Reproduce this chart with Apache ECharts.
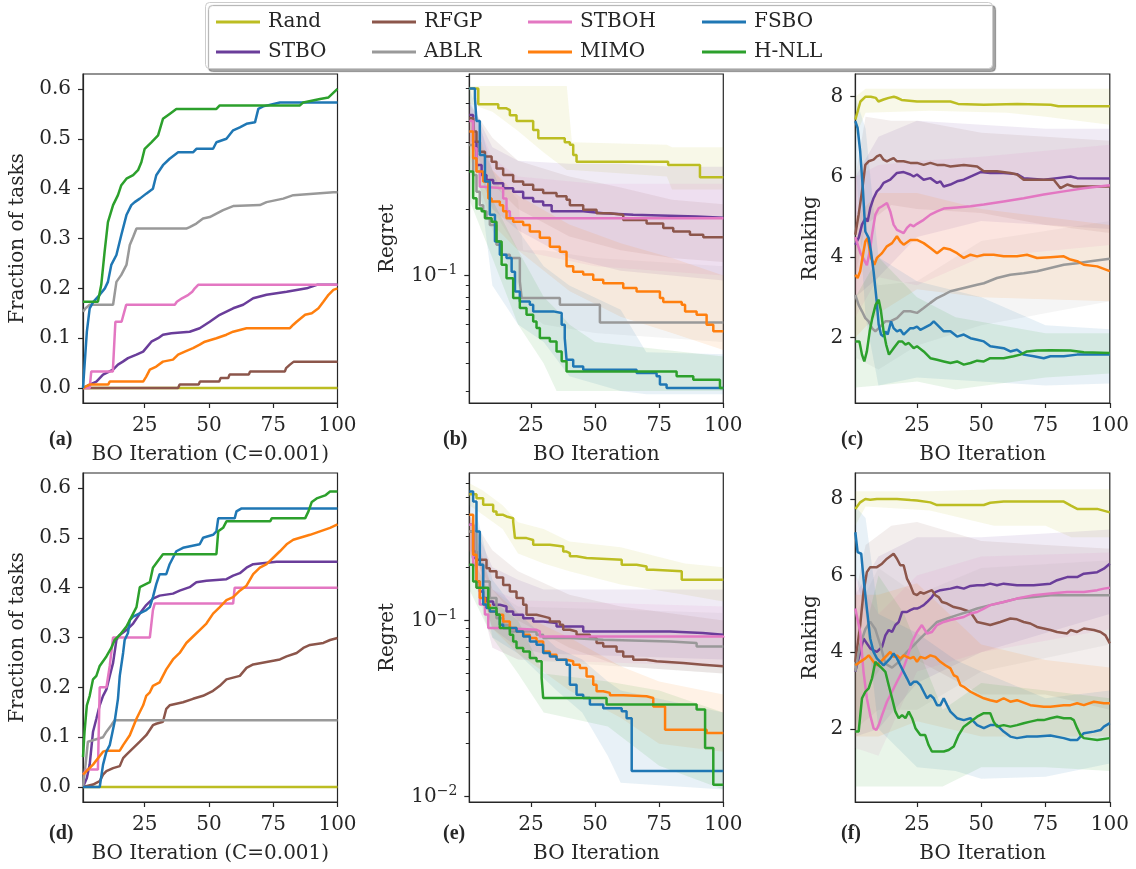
<!DOCTYPE html>
<html>
<head>
<meta charset="utf-8">
<script src="https://cdn.jsdelivr.net/npm/echarts@6.0.0/dist/echarts.min.js"></script>
<style>
  html, body { margin: 0; padding: 0; background: #ffffff; }
  #chart { width: 1136px; height: 869px; }
</style>
</head>
<body>
<div id="chart"></div>
<script>
// ---------- methods (plot order) ----------
const methods = ['Rand', 'STBO', 'RFGP', 'ABLR', 'STBOH', 'MIMO', 'FSBO', 'H-NLL'];

// ---------- shared tick values ----------
const xTicks = [25, 50, 75, 100];
const fracTicks = [0, 0.1, 0.2, 0.3, 0.4, 0.5, 0.6];
const rankTicks = [2, 4, 6, 8];
const regretMajorB = [0.1];
const regretMinorB = [0.03, 0.04, 0.05, 0.06, 0.07, 0.08, 0.09, 0.2, 0.3, 0.4, 0.5, 0.6, 0.7, 0.8];
const regretMajorE = [0.01, 0.1];
const regretMinorE = [0.02, 0.03, 0.04, 0.05, 0.06, 0.07, 0.08, 0.09, 0.2, 0.3, 0.4, 0.5, 0.6];

// ---------- (a) fraction of tasks solved, C=0.001 ----------
const aRand = [[1,0],[100,0]];
const aSTBO = [[1,0],[3.6,0.007],[6.2,0.013],[8.8,0.027],[12.7,0.037],[14.6,0.047],[16.5,0.053],[18.5,0.06],[21.8,0.067],[24.4,0.073],[27.6,0.093],[30.2,0.1],[32.1,0.107],[35.4,0.11],[42.5,0.113],[46.4,0.12],[50.3,0.133],[54.2,0.147],[59.4,0.16],[63.3,0.167],[67.2,0.18],[72.4,0.187],[80.2,0.193],[88,0.2],[92,0.207],[100,0.207]];
const aRFGP = [[1,0],[38,0],[38.6,0.007],[46,0.007],[46.5,0.013],[54,0.013],[54.5,0.02],[57.5,0.02],[58,0.027],[65.5,0.027],[66,0.033],[79.5,0.033],[80,0.04],[81.5,0.047],[83,0.053],[100,0.053]];
const aABLR = [[1,0.153],[2,0.16],[3.6,0.167],[12.7,0.167],[14,0.213],[15.9,0.227],[17.9,0.247],[19.2,0.287],[20.5,0.303],[21.8,0.32],[41.2,0.32],[42.5,0.323],[45.1,0.33],[47.7,0.34],[50.3,0.343],[52.9,0.35],[55.5,0.357],[59.4,0.365],[69.8,0.367],[72.4,0.373],[78.9,0.38],[82.8,0.387],[98.4,0.393],[100,0.393]];
const aSTBOH = [[1,0],[3.6,0],[4.2,0.033],[12.6,0.033],[13.6,0.133],[16,0.133],[17.8,0.167],[36.7,0.167],[37.5,0.173],[39.5,0.18],[42,0.187],[43.5,0.193],[44.5,0.2],[45.8,0.207],[100,0.207]];
const aMIMO = [[1,0],[2,0.003],[3.6,0.007],[10.8,0.007],[11.4,0.013],[24.4,0.013],[25.6,0.023],[27,0.037],[29.5,0.043],[32.1,0.053],[36,0.057],[38,0.067],[40.6,0.073],[43.8,0.08],[46.4,0.087],[48.4,0.093],[52.9,0.1],[56.8,0.107],[59.4,0.113],[64.6,0.12],[81.5,0.12],[82.8,0.127],[84.1,0.133],[87.4,0.147],[90,0.15],[92.6,0.16],[94.5,0.173],[96.5,0.187],[98.4,0.197],[100,0.2]];
const aFSBO = [[1,0],[2.5,0.113],[3.6,0.16],[5,0.173],[7.5,0.187],[9.5,0.2],[10.7,0.213],[12,0.247],[14,0.267],[15.9,0.307],[17.9,0.347],[19.8,0.367],[21.1,0.373],[23.1,0.38],[25.6,0.39],[28.2,0.4],[29.5,0.427],[32.1,0.447],[34.7,0.46],[38,0.473],[43.8,0.473],[45.1,0.48],[51.6,0.48],[52.9,0.493],[56.8,0.5],[59.4,0.517],[62,0.523],[64.6,0.53],[67.9,0.533],[69.2,0.56],[71.1,0.565],[77.6,0.573],[100,0.573]];
const aHNLL = [[1,0.173],[6.8,0.173],[8.1,0.207],[9.4,0.273],[10.7,0.333],[12.7,0.367],[14.6,0.387],[15.9,0.407],[17.9,0.42],[20.5,0.427],[22.4,0.437],[23.7,0.453],[25,0.48],[27.6,0.493],[30.2,0.507],[32.1,0.54],[34.7,0.55],[37.3,0.56],[52.9,0.56],[54.2,0.567],[85.4,0.567],[86.7,0.573],[93.2,0.58],[96.5,0.583],[100,0.6]];

// ---------- (b) regret, mean with band [x, low, high] ----------
const bRand = [[1,0.70],[4.5,0.594],[12.3,0.57],[15.5,0.56],[16.8,0.53],[19.4,0.50],[25.9,0.455],[27.9,0.417],[38.2,0.40],[40.2,0.39],[41.5,0.351],[42.8,0.327],[78.5,0.316],[90.9,0.278],[100,0.278]];
const bSTBO = [[1,0.532],[2.5,0.403],[3.8,0.316],[5.8,0.285],[7.7,0.27],[10.3,0.261],[14.2,0.248],[18.1,0.239],[22,0.224],[25.9,0.216],[29.8,0.208],[33.1,0.195],[45.4,0.191],[53.2,0.188],[64.9,0.185],[89.6,0.1825],[100,0.1825]];
const bRFGP = [[1,0.514],[2.5,0.448],[3.8,0.403],[5.1,0.363],[7.1,0.345],[9.7,0.327],[11.6,0.305],[14.2,0.285],[18.1,0.266],[22,0.257],[25.9,0.244],[29.8,0.236],[35,0.228],[38.9,0.22],[40.2,0.208],[45.4,0.198],[50.6,0.191],[55.8,0.188],[61,0.178],[70.1,0.172],[76.6,0.164],[80.5,0.158],[87,0.153],[92.2,0.149],[100,0.149]];
const bABLR = [[1,0.389],[2.5,0.285],[3.8,0.239],[5.1,0.208],[6.4,0.195],[7.7,0.1815],[9,0.169],[11.6,0.1376],[13.6,0.124],[16.8,0.12],[20.7,0.094],[21.4,0.079],[36.3,0.0737],[51.9,0.0613],[100,0.0613]];
const bSTBOH = [[1,0.50],[2.5,0.376],[3.8,0.295],[5.1,0.252],[6.4,0.248],[14.2,0.223],[15.5,0.195],[16.8,0.1815],[100,0.1815]];
const bMIMO = [[1,0.448],[2.5,0.339],[3.8,0.295],[6.4,0.266],[8.4,0.223],[9.7,0.216],[12.9,0.208],[14.2,0.195],[15.5,0.1815],[18.1,0.175],[22,0.169],[24.6,0.158],[28.5,0.148],[32.4,0.135],[36.3,0.128],[38.9,0.11],[41.5,0.104],[45.4,0.101],[49.3,0.0956],[53.2,0.0923],[61,0.0877],[66.2,0.0847],[75.3,0.079],[76.6,0.0758],[83.8,0.0737],[85.1,0.0688],[89.6,0.0664],[93.5,0.0598],[96.1,0.0559],[100,0.0559]];
const bFSBO = [[1,0.70],[3.2,0.632],[3.8,0.50],[5.1,0.351],[7.1,0.266],[9,0.188],[11,0.1424],[12.9,0.124],[15.5,0.12],[17.5,0.104],[18.8,0.0847],[20.7,0.0763],[24.6,0.0737],[25.9,0.0688],[33.7,0.0676],[37,0.0598],[38.2,0.0521],[38.9,0.0416],[41.5,0.0388],[45.4,0.0375],[66.2,0.0362],[74,0.035],[75.3,0.0321],[77.9,0.031],[100,0.031]];
const bHNLL = [[1,0.295],[2.5,0.2235],[3.8,0.201],[5.8,0.195],[7.1,0.1815],[9.7,0.175],[11.6,0.1424],[13.6,0.1117],[15.5,0.0972],[18.1,0.079],[20.7,0.0712],[23.3,0.0664],[25.9,0.062],[27.2,0.0578],[28.5,0.0521],[32.4,0.0503],[35,0.0453],[37,0.0409],[38.9,0.0368],[81.8,0.035],[88.3,0.0338],[98.7,0.031],[100,0.031]];
const bRandBand = [[1,0.60,0.72],[10,0.55,0.72],[20,0.45,0.72],[30,0.36,0.72],[39,0.30,0.72],[41,0.30,0.40],[78,0.28,0.39],[80,0.245,0.38],[100,0.245,0.38]];
const bSTBOBand = [[1,0.40,0.62],[10,0.20,0.38],[20,0.16,0.33],[40,0.12,0.32],[60,0.105,0.32],[80,0.10,0.31],[100,0.095,0.31]];
const bRFGPBand = [[1,0.40,0.60],[10,0.26,0.42],[20,0.20,0.33],[40,0.15,0.28],[60,0.13,0.25],[80,0.12,0.22],[100,0.115,0.21]];
const bABLRBand = [[1,0.30,0.50],[10,0.16,0.30],[20,0.09,0.22],[22,0.07,0.13],[30,0.06,0.13],[50,0.055,0.12],[100,0.05,0.11]];
const bSTBOHBand = [[1,0.40,0.60],[10,0.20,0.34],[20,0.13,0.28],[50,0.11,0.26],[100,0.10,0.26]];
const bMIMOBand = [[1,0.35,0.55],[10,0.17,0.30],[20,0.13,0.23],[40,0.085,0.17],[60,0.065,0.14],[80,0.055,0.12],[100,0.046,0.10]];
const bFSBOBand = [[1,0.60,0.72],[10,0.09,0.30],[20,0.06,0.16],[30,0.05,0.11],[40,0.035,0.09],[60,0.03,0.07],[70,0.029,0.045],[100,0.029,0.044]];
const bHNLLBand = [[1,0.22,0.40],[10,0.12,0.22],[20,0.06,0.13],[30,0.04,0.08],[35,0.03,0.07],[40,0.03,0.06],[50,0.03,0.05],[100,0.03,0.043]];

// ---------- (c) ranking ----------
const cRand = [[1,7.43],[3,7.88],[5,8.0],[7,8.0],[9,7.97],[10,7.88],[12,7.93],[14,7.97],[16,8.0],[17,7.98],[19,7.92],[25,7.88],[38,7.88],[41,7.82],[51,7.80],[64,7.82],[77,7.80],[80,7.76],[100,7.76]];
const cSTBO = [[1,4.31],[2.3,4.48],[3.6,4.81],[4.9,4.97],[5.8,4.89],[6.8,5.22],[8.1,5.47],[9.4,5.64],[10.7,5.72],[12,5.85],[14.6,5.93],[17.2,6.10],[19.8,6.12],[22.4,6.06],[23.7,6.01],[25,6.06],[27.6,5.93],[30.2,5.97],[32.8,5.85],[34.1,5.89],[35.4,5.76],[38,5.81],[40.6,5.89],[43.2,5.93],[45.8,6.01],[49.7,6.12],[53.5,6.10],[58.7,6.10],[63.9,6.07],[66.5,5.97],[74.3,5.93],[79.5,5.97],[84.7,6.01],[87.3,5.97],[100,5.96]];
const cRFGP = [[1,4.56],[2.3,5.06],[3.6,5.64],[4.9,6.30],[6.2,6.39],[8.1,6.43],[9.4,6.51],[10.7,6.55],[12,6.43],[13.3,6.39],[14.6,6.43],[15.9,6.47],[17.2,6.39],[19.8,6.39],[22.4,6.35],[25,6.35],[27.6,6.30],[30.2,6.35],[32.8,6.30],[35.4,6.30],[38,6.26],[43.2,6.30],[48.4,6.26],[51,6.14],[56.1,6.14],[61.3,6.10],[63.9,6.06],[66.5,5.93],[74.3,5.93],[78.2,5.93],[80.8,5.72],[83.4,5.81],[86,5.76],[89.9,5.76],[100,5.76]];
const cABLR = [[1,3.06],[2.3,2.81],[3.6,2.65],[4.9,2.48],[6.2,2.40],[7.5,2.23],[8.8,2.15],[10.1,2.23],[11.4,2.32],[12.7,2.40],[14.6,2.40],[17.2,2.48],[19.8,2.65],[22.4,2.65],[25,2.61],[27.6,2.73],[30.2,2.86],[32.8,2.98],[35.4,3.06],[38,3.15],[43.2,3.23],[48.4,3.31],[51,3.35],[56.1,3.48],[61.3,3.56],[66.5,3.60],[71.7,3.65],[76.9,3.73],[82.1,3.81],[87.3,3.85],[92.5,3.90],[100,3.96]];
const cSTBOH = [[1,4.5],[3,4.1],[5.5,3.8],[6.8,4.2],[7.5,4.56],[8.8,5.06],[10.1,5.22],[11.4,5.27],[13.3,5.35],[14.6,5.14],[15.9,4.81],[17.2,4.68],[19.8,4.60],[21.1,4.73],[22.4,4.81],[23.7,4.77],[25,4.83],[27.6,4.93],[30.2,5.06],[32.8,5.14],[35.4,5.21],[40.6,5.24],[45.8,5.27],[51,5.31],[58.7,5.39],[66.5,5.47],[74.3,5.56],[82.1,5.64],[89.9,5.72],[100,5.79]];
const cMIMO = [[1,3.56],[1.9,3.48],[2.9,3.65],[4.2,4.14],[4.9,4.39],[5.8,4.48],[7.1,3.98],[8.4,3.81],[9.4,3.98],[11.4,4.10],[13.3,4.27],[15.3,4.35],[17.2,4.52],[18.5,4.39],[19.8,4.31],[22.4,4.43],[25,4.43],[27.6,4.35],[30.2,4.23],[32.8,4.10],[35.4,4.23],[38,4.19],[40.6,4.10],[43.2,3.98],[45.8,4.06],[48.4,4.02],[51,4.06],[54.8,4.06],[58.7,4.02],[63.9,4.02],[67.8,4.06],[71.7,3.98],[76.9,4.0],[82.1,4.02],[84.7,3.94],[87.3,3.90],[89.9,3.81],[95.1,3.77],[100,3.65]];
const cFSBO = [[1,7.39],[1.9,7.22],[2.9,6.64],[4,5.64],[4.9,4.64],[6.2,4.48],[7.1,4.14],[8.1,3.65],[9.2,2.98],[10.1,2.32],[11,2.07],[12,2.02],[12.7,2.15],[13.6,2.07],[14.9,2.40],[15.9,2.23],[17.2,2.15],[18.5,2.19],[19.8,2.07],[21.1,2.15],[22.4,2.23],[23.7,2.23],[25,2.27],[26.3,2.19],[27.6,2.23],[30.2,2.32],[31.5,2.40],[32.8,2.32],[35.4,2.15],[38,2.15],[40.6,2.02],[43.2,2.07],[45.8,1.98],[48.4,1.94],[51,1.90],[53.5,1.78],[58.7,1.73],[61.3,1.65],[63.9,1.69],[66.5,1.57],[70.4,1.53],[74.3,1.48],[76.9,1.53],[82.1,1.53],[87.3,1.57],[100,1.57]];
const cHNLL = [[1,1.90],[2.6,1.90],[3.6,1.57],[4.5,1.40],[5.5,1.65],[6.6,2.15],[7.6,2.48],[8.9,2.81],[10.1,2.94],[11,2.65],[12,2.15],[13,1.82],[14.1,1.57],[15.9,1.73],[17.9,1.90],[19.2,1.90],[20.5,1.82],[21.8,1.86],[23.7,1.73],[25,1.78],[27.6,1.65],[30.2,1.48],[32.8,1.44],[35.4,1.40],[38,1.36],[40.6,1.40],[43.2,1.32],[45.8,1.36],[48.4,1.42],[51,1.40],[53.5,1.48],[58.7,1.48],[62.6,1.53],[65.2,1.57],[67.8,1.65],[71.7,1.67],[76.9,1.68],[84.7,1.67],[89.9,1.63],[100,1.61]];
const cRandBand = [[1,7.0,8.0],[5,7.6,8.2],[30,7.65,8.2],[60,7.6,8.2],[75,7.5,8.2],[100,7.3,8.2]];
const cSTBOBand = [[1,3.0,6.0],[10,3.5,7.0],[25,4.5,7.4],[50,4.9,7.3],[75,4.8,7.2],[100,4.7,7.2]];
const cRFGPBand = [[1,3.5,6.0],[5,4.8,7.5],[15,5.3,7.4],[25,5.2,7.4],[50,5.1,7.1],[75,4.8,7.0],[100,4.6,6.9]];
const cABLRBand = [[1,1.5,4.5],[10,1.2,3.3],[25,1.8,3.4],[50,2.3,4.4],[100,2.9,4.9]];
const cSTBOHBand = [[1,2.5,6.0],[10,3.5,6.3],[25,3.3,6.4],[50,4.0,6.5],[100,4.3,6.8]];
const cMIMOBand = [[1,2.0,5.0],[10,2.6,5.6],[25,3.2,5.6],[50,3.0,5.2],[100,2.9,4.8]];
const cFSBOBand = [[1,6.5,8.0],[5,2.5,7.2],[10,0.8,4.0],[25,1.0,3.4],[50,0.9,3.0],[75,0.8,2.3],[100,0.85,2.2]];
const cHNLLBand = [[1,0.75,3.0],[10,0.8,4.0],[25,0.9,3.0],[40,0.7,2.5],[75,1.0,2.1],[100,1.1,2.1]];

// ---------- (d) fraction of tasks solved, C=0.001 ----------
const dRand = [[1,0],[100,0]];
const dSTBO = [[1,0],[2.5,0.018],[3.6,0.045],[4.9,0.111],[6.2,0.137],[7.5,0.164],[8.8,0.183],[10.1,0.196],[11.4,0.223],[12.7,0.249],[14,0.295],[15.3,0.305],[17.9,0.315],[20.5,0.328],[23.1,0.348],[25.6,0.365],[28.2,0.378],[30.8,0.384],[33.4,0.386],[36,0.388],[38.6,0.394],[42.5,0.401],[45.1,0.411],[49,0.414],[56.8,0.417],[59.4,0.424],[62,0.429],[64.6,0.44],[67.2,0.447],[76.3,0.452],[100,0.452]];
const dRFGP = [[1,0],[4.9,0.005],[7.5,0.012],[8.8,0.025],[10.1,0.032],[12.7,0.038],[15.3,0.042],[16.6,0.058],[17.9,0.065],[20.5,0.078],[23.1,0.091],[25.6,0.104],[28.2,0.124],[29.5,0.127],[32.1,0.131],[33.4,0.157],[34.7,0.164],[37.3,0.167],[39.9,0.17],[43.8,0.177],[47.7,0.183],[51.6,0.193],[54.2,0.203],[56.8,0.216],[62,0.223],[64.6,0.239],[67.2,0.246],[77.6,0.256],[80.2,0.262],[84.1,0.269],[86.7,0.279],[89.3,0.285],[94.5,0.289],[97.1,0.295],[100,0.299]];
const dABLR = [[1,0],[2,0.045],[2.9,0.091],[8.8,0.1],[10.1,0.111],[12,0.124],[13.3,0.134],[100,0.134]];
const dSTBOH = [[1,0.025],[2.5,0.035],[6.8,0.035],[7.5,0.2],[10.1,0.2],[11.4,0.243],[12.7,0.3],[27,0.3],[28.2,0.355],[28.9,0.368],[59.4,0.368],[60,0.4],[100,0.4]];
const dMIMO = [[1,0.025],[4.9,0.045],[8.8,0.071],[10.1,0.073],[15.3,0.073],[16.6,0.084],[19.2,0.104],[21.8,0.137],[24.4,0.164],[25.6,0.183],[27,0.19],[28.2,0.203],[30.8,0.21],[33.4,0.236],[36,0.256],[38.6,0.269],[41.2,0.289],[43.8,0.302],[46.4,0.315],[49,0.328],[51.6,0.348],[54.2,0.361],[56.8,0.375],[59.4,0.381],[62,0.394],[64.6,0.404],[67.2,0.427],[69.8,0.44],[72.4,0.447],[75,0.46],[77.6,0.473],[80.2,0.487],[82.8,0.496],[85.4,0.5],[89.3,0.506],[93.2,0.513],[97.1,0.52],[100,0.527]];
const dFSBO = [[1,0],[7.5,0],[8.8,0.045],[10.1,0.071],[11.4,0.084],[13.3,0.131],[14.6,0.177],[15.3,0.223],[16.6,0.269],[17.2,0.295],[18.5,0.309],[19.2,0.335],[20.5,0.342],[25.6,0.355],[27,0.361],[28.2,0.381],[29.5,0.407],[30.8,0.427],[33.4,0.427],[34.7,0.447],[36,0.46],[37.3,0.473],[39.9,0.48],[46.4,0.487],[47.7,0.5],[51.6,0.506],[52.9,0.513],[53.6,0.539],[60,0.539],[60.7,0.553],[62.7,0.559],[100,0.559]];
const dHNLL = [[1,0.06],[1.6,0.111],[2.5,0.164],[3.6,0.183],[4.9,0.216],[6.2,0.223],[7.5,0.243],[10.1,0.262],[12,0.279],[13.3,0.295],[15.3,0.305],[17.9,0.322],[20.5,0.348],[21.8,0.361],[23.1,0.401],[27,0.411],[28.2,0.44],[30.2,0.454],[32.1,0.467],[52.9,0.467],[53.6,0.513],[55.5,0.52],[56.8,0.533],[73.8,0.533],[74.4,0.539],[87.4,0.539],[88.7,0.553],[90,0.572],[91.9,0.579],[95.2,0.585],[97.1,0.593],[100,0.593]];

// ---------- (e) regret ----------
const eRand = [[1,0.52],[3.8,0.494],[6.4,0.453],[10.3,0.415],[11.6,0.397],[14.2,0.389],[15.5,0.38],[18.1,0.364],[18.8,0.293],[23.3,0.286],[25.9,0.269],[32.4,0.263],[37.6,0.246],[38.9,0.241],[40.2,0.231],[42.8,0.226],[46.7,0.221],[60.4,0.207],[66.2,0.202],[70.1,0.194],[72.7,0.19],[83.8,0.17],[100,0.17]];
const eSTBO = [[1,0.349],[2.5,0.226],[3.8,0.166],[5.1,0.146],[6.4,0.134],[7.7,0.128],[10.3,0.1227],[12.9,0.12],[15.5,0.1124],[18.1,0.1077],[22,0.103],[25.9,0.0987],[29.8,0.0966],[35,0.0925],[45.4,0.0866],[79.2,0.0848],[92,0.0829],[100,0.0829]];
const eRFGP = [[1,0.32],[2.5,0.246],[3.8,0.221],[7.7,0.198],[9,0.19],[11.6,0.175],[14.2,0.159],[16.8,0.146],[19.4,0.134],[22,0.1227],[23.3,0.1077],[27.2,0.1054],[29.8,0.103],[32.4,0.0987],[36.3,0.0945],[37.6,0.0885],[40.2,0.0866],[42.8,0.0829],[48,0.0794],[50.6,0.0744],[53.2,0.0712],[58.4,0.0667],[61,0.0625],[64.9,0.0598],[70.1,0.0586],[74,0.0573],[84.4,0.0561],[92,0.0549],[100,0.0549]];
const eABLR = [[1,0.32],[3.8,0.207],[6.4,0.166],[9,0.134],[11.6,0.103],[14.2,0.0945],[16.8,0.0866],[27.2,0.0829],[29.8,0.0794],[40.2,0.0777],[53.2,0.076],[79.2,0.0744],[89.6,0.0712],[100,0.0712]];
const eSTBOH = [[1,0.349],[2.5,0.207],[3.8,0.153],[5.1,0.123],[7.1,0.108],[8.4,0.0905],[14.2,0.0885],[27.2,0.0866],[28.5,0.0811],[100,0.0801]];
const eMIMO = [[1,0.397],[2.5,0.236],[3.8,0.166],[5.1,0.134],[7.1,0.1227],[9,0.1124],[11.6,0.1077],[14.2,0.0987],[16.8,0.0905],[19.4,0.0866],[22,0.0829],[24.6,0.0794],[27.2,0.076],[29.8,0.0667],[32.4,0.0639],[35,0.0598],[38.9,0.0586],[41.5,0.0561],[44.1,0.0537],[46.7,0.0481],[49.3,0.0432],[50.6,0.0396],[53.2,0.0388],[55.8,0.0376],[61,0.0371],[70.1,0.0363],[72.7,0.0325],[77.3,0.024],[93.5,0.023],[100,0.023]];
const eFSBO = [[1,0.539],[2.5,0.473],[3.8,0.32],[5.1,0.207],[6.4,0.123],[7.7,0.1175],[9,0.1124],[11.6,0.1077],[12.9,0.0945],[14.2,0.0905],[19.4,0.0866],[22,0.081],[24.6,0.076],[27.2,0.0727],[29.8,0.0653],[32.4,0.0625],[35,0.0598],[38.9,0.0561],[40.2,0.0432],[42.8,0.0379],[45.4,0.0363],[48,0.0333],[53.2,0.0318],[60.4,0.0305],[62.3,0.0279],[64.3,0.014],[100,0.014]];
const eHNLL = [[1,0.207],[2.5,0.166],[3.8,0.153],[8.4,0.1175],[11.6,0.1077],[12.9,0.0905],[16.8,0.0829],[18.1,0.076],[19.4,0.0697],[22,0.0667],[24.6,0.0612],[27.2,0.0586],[29.2,0.0471],[29.8,0.0363],[54.5,0.0333],[89.6,0.0312],[92.9,0.0189],[96.1,0.0117],[100,0.0117]];
const eRandBand = [[1,0.45,0.6],[6,0.40,0.55],[14,0.33,0.45],[20,0.24,0.36],[30,0.21,0.33],[40,0.19,0.28],[60,0.16,0.26],[85,0.14,0.21],[100,0.128,0.2]];
const eSTBOBand = [[1,0.25,0.4],[10,0.09,0.2],[20,0.07,0.17],[30,0.065,0.15],[100,0.06,0.15]];
const eRFGPBand = [[1,0.25,0.4],[10,0.15,0.25],[20,0.1,0.19],[40,0.07,0.14],[60,0.055,0.12],[100,0.05,0.1]];
const eABLRBand = [[1,0.22,0.35],[10,0.07,0.15],[20,0.06,0.12],[100,0.05,0.11]];
const eSTBOHBand = [[1,0.25,0.4],[10,0.07,0.15],[20,0.06,0.13],[100,0.055,0.12]];
const eMIMOBand = [[1,0.25,0.4],[10,0.09,0.15],[20,0.065,0.11],[40,0.04,0.08],[60,0.028,0.055],[75,0.02,0.045],[100,0.018,0.038]];
const eFSBOBand = [[1,0.45,0.6],[10,0.08,0.17],[20,0.065,0.11],[35,0.04,0.07],[45,0.03,0.06],[55,0.017,0.045],[60,0.012,0.04],[100,0.011,0.03]];
const eHNLLBand = [[1,0.15,0.25],[10,0.08,0.13],[20,0.05,0.1],[30,0.03,0.05],[55,0.025,0.045],[75,0.015,0.04],[100,0.011,0.03]];

// ---------- (f) ranking ----------
const fRand = [[1,7.74],[2.9,7.91],[4.9,8.0],[6.8,7.98],[9.4,8.0],[12,8.0],[17.2,8.0],[22.4,7.97],[25,7.96],[30.2,7.91],[32.8,7.84],[51,7.84],[53.5,7.90],[58.7,7.93],[82.1,7.93],[84.7,7.83],[87.3,7.74],[95.1,7.74],[100,7.65]];
const fSTBO = [[1,3.49],[4.2,4.36],[6.8,4.10],[8.1,4.05],[9.4,4.01],[11.4,4.14],[12.7,4.44],[14,4.58],[15.3,4.53],[16.6,4.71],[17.9,4.79],[19.2,5.05],[21.1,5.05],[22.4,5.10],[23.7,5.14],[25,5.14],[26.3,5.18],[27.6,5.23],[28.9,5.31],[30.8,5.44],[32.1,5.57],[34.1,5.62],[38,5.66],[40.6,5.70],[43.2,5.66],[45.8,5.73],[48.4,5.75],[51,5.75],[53.5,5.79],[56.1,5.75],[58.7,5.79],[63.9,5.75],[70.4,5.75],[76.9,5.79],[79.5,5.88],[83.4,5.96],[87.3,5.96],[89.9,6.05],[95.1,6.09],[97.7,6.18],[100,6.31]];
const fRFGP = [[1,3.75],[2.9,4.71],[4.2,5.57],[5.5,6.09],[6.8,6.22],[9.4,6.22],[11.4,6.31],[13.3,6.44],[15.9,6.57],[17.2,6.44],[18.5,6.27],[19.8,6.27],[21.1,5.92],[22.4,5.75],[23.7,5.53],[25,5.49],[26.3,5.57],[27.6,5.53],[28.9,5.57],[30.8,5.62],[32.1,5.49],[33.4,5.44],[34.7,5.31],[36.7,5.27],[39.3,5.18],[41.9,5.14],[45.8,5.05],[48.4,4.79],[51,4.75],[53.5,4.71],[57.4,4.79],[61.3,4.88],[63.9,4.86],[66.5,4.79],[69.1,4.75],[71.7,4.66],[74.3,4.62],[76.9,4.58],[79.5,4.53],[83.4,4.49],[84.7,4.58],[87.3,4.53],[89.9,4.62],[93.8,4.58],[96.4,4.53],[98.3,4.44],[100,4.23]];
const fABLR = [[1,3.5],[2.9,4.2],[4.9,4.6],[6.8,4.8],[8.8,4.6],[10.7,4.2],[12.7,3.7],[15.3,3.6],[17.9,3.75],[21.1,4.01],[23.7,4.18],[26.3,4.36],[28.9,4.53],[32.8,4.79],[36.7,4.88],[40.6,4.97],[44.5,5.05],[48.4,5.14],[53.5,5.23],[58.7,5.31],[63.9,5.40],[70.4,5.44],[76.9,5.49],[100,5.49]];
const fSTBOH = [[1,5.14],[1.6,5.14],[2.9,4.53],[4.2,3.49],[5.5,2.80],[6.8,2.36],[8.1,2.02],[9.2,1.97],[10.1,2.10],[11.4,2.36],[13.3,2.71],[15.3,2.97],[17.2,3.23],[19.2,3.49],[21.1,3.84],[23.1,4.27],[25,4.53],[26.9,4.71],[28.9,4.49],[30.8,4.53],[32.8,4.71],[35.4,4.79],[38,4.84],[40.6,4.88],[43.2,4.92],[45.8,5.01],[48.4,5.05],[51,5.14],[53.5,5.23],[58.7,5.31],[63.9,5.40],[70.4,5.49],[76.9,5.53],[83.4,5.57],[89.9,5.57],[95.1,5.62],[97.7,5.66],[100,5.68]];
const fMIMO = [[1,3.66],[2.9,3.75],[4.9,3.84],[6.2,3.92],[8.1,3.75],[9.4,3.66],[11.4,3.79],[13.3,3.92],[14.6,4.01],[15.9,3.88],[17.2,3.92],[18.5,3.84],[19.8,3.92],[22.4,3.84],[23.7,3.88],[25,3.75],[26.3,3.88],[28.2,3.84],[30.2,3.92],[32.1,3.88],[34.1,3.75],[36,3.66],[38,3.58],[39.3,3.40],[40.6,3.36],[41.9,3.14],[43.2,3.10],[45.8,2.97],[48.4,2.88],[51,2.80],[53.5,2.75],[56.1,2.71],[58.7,2.80],[61.3,2.71],[63.9,2.75],[69.1,2.62],[74.3,2.58],[76.9,2.58],[82.1,2.62],[84.7,2.62],[87.3,2.67],[89.9,2.62],[93.8,2.71],[97.7,2.67],[100,2.67]];
const fFSBO = [[1,7.13],[1.9,6.61],[3.3,6.57],[4.2,5.92],[5.5,5.14],[6.8,4.36],[8.1,4.01],[9.4,3.84],[10.7,3.75],[12,3.66],[13.3,3.75],[14.6,3.84],[15.9,3.97],[17.2,3.84],[18.5,3.66],[19.8,3.49],[21.1,3.32],[22.4,3.14],[23.7,3.23],[25,3.23],[26.3,3.14],[27.6,2.97],[28.9,2.80],[30.2,2.88],[31.5,2.80],[32.8,2.62],[34.1,2.62],[35.4,2.80],[36.7,2.62],[38,2.45],[40.6,2.28],[43.2,2.23],[45.8,2.28],[48.4,2.10],[51,2.02],[53.5,2.10],[56.1,2.10],[58.7,1.93],[61.3,1.80],[63.9,1.76],[67.8,1.80],[71.7,1.80],[76.9,1.83],[82.1,1.76],[84.7,1.71],[87.3,1.71],[89.9,1.89],[93.8,1.93],[96.4,1.97],[97.7,2.06],[100,2.15]];
const fHNLL = [[1,1.93],[2.3,1.93],[3.6,2.80],[4.9,2.97],[6.2,3.06],[7.5,3.32],[8.8,3.75],[10.1,3.66],[11.4,3.58],[12.7,3.49],[14,3.14],[15.3,2.80],[16.6,2.45],[17.9,2.28],[19.2,2.36],[20.5,2.28],[21.8,2.45],[23.1,2.28],[24.4,2.02],[26.3,1.84],[28.2,1.84],[29.5,1.58],[30.8,1.41],[32.8,1.41],[35.4,1.41],[37.3,1.45],[39.3,1.54],[41.2,1.84],[43.2,2.06],[45.8,2.19],[48.4,2.32],[51,2.41],[53.5,2.41],[54.8,2.19],[56.1,2.06],[58.7,2.10],[61.3,2.06],[63.9,2.10],[66.5,2.15],[69.1,2.19],[71.7,2.23],[74.3,2.23],[76.9,2.28],[79.5,2.32],[82.1,2.28],[84.7,2.28],[86,2.23],[87.3,2.02],[88.6,1.84],[89.9,1.76],[95.1,1.71],[100,1.76]];
const fRandBand = [[1,7.3,8.2],[5,7.8,8.2],[30,7.7,8.2],[55,7.3,8.25],[75,7.3,8.25],[85,7.0,8.25],[100,7.0,8.25]];
const fSTBOBand = [[1,1.8,5.5],[10,2.0,6.5],[25,3.2,7.0],[50,4.0,7.0],[75,4.5,7.1],[100,5.0,7.2]];
const fRFGPBand = [[1,2.0,5.5],[5,3.0,6.8],[15,4.0,7.3],[25,3.8,7.4],[50,2.9,6.9],[75,2.9,6.8],[100,2.5,6.7]];
const fABLRBand = [[1,2.0,5.0],[10,2.5,6.2],[25,2.5,5.5],[50,3.5,6.2],[100,4.2,6.4]];
const fSTBOHBand = [[1,1.5,6.0],[10,1.3,5.0],[25,3.5,6.0],[50,4.0,6.5],[100,4.6,6.6]];
const fMIMOBand = [[1,1.8,5.5],[10,1.8,5.5],[25,2.2,5.8],[50,1.8,4.2],[75,1.8,3.8],[100,1.8,3.6]];
const fFSBOBand = [[1,6.0,7.8],[5,5.0,7.5],[10,2.0,5.0],[25,1.0,4.5],[40,0.9,3.8],[50,0.7,3.5],[75,0.75,2.8],[100,1.1,3.0]];
const fHNLLBand = [[1,0.5,3.5],[10,0.5,6.0],[20,0.5,5.0],[35,0.5,2.5],[50,1.0,3.2],[75,1.0,3.0],[100,0.9,2.8]];

// ---------- styling ----------
const colors = ['#bcbd22', '#6a3d9a', '#8c564b', '#999999', '#e377c2', '#ff7f0e', '#1f77b4', '#2ca02c'];
const FONT = '"DejaVu Serif", serif';
const INK = '#262626';

const panels = [
  { tag: '(a)', lines: [aRand,aSTBO,aRFGP,aABLR,aSTBOH,aMIMO,aFSBO,aHNLL], bands: null, step: false,
    kind: 'frac', xName: 'BO Iteration (C=0.001)', yName: 'Fraction of tasks' },
  { tag: '(b)', lines: [bRand,bSTBO,bRFGP,bABLR,bSTBOH,bMIMO,bFSBO,bHNLL],
    bands: [bRandBand,bSTBOBand,bRFGPBand,bABLRBand,bSTBOHBand,bMIMOBand,bFSBOBand,bHNLLBand], step: true,
    kind: 'log', yMin: 0.0265, yMax: 0.815, majors: regretMajorB, minors: regretMinorB, xName: 'BO Iteration', yName: 'Regret' },
  { tag: '(c)', lines: [cRand,cSTBO,cRFGP,cABLR,cSTBOH,cMIMO,cFSBO,cHNLL],
    bands: [cRandBand,cSTBOBand,cRFGPBand,cABLRBand,cSTBOHBand,cMIMOBand,cFSBOBand,cHNLLBand], step: false,
    kind: 'rank', yMin: 0.364, yMax: 8.566, xName: 'BO Iteration', yName: 'Ranking' },
  { tag: '(d)', lines: [dRand,dSTBO,dRFGP,dABLR,dSTBOH,dMIMO,dFSBO,dHNLL], bands: null, step: false,
    kind: 'frac', xName: 'BO Iteration (C=0.001)', yName: 'Fraction of tasks' },
  { tag: '(e)', lines: [eRand,eSTBO,eRFGP,eABLR,eSTBOH,eMIMO,eFSBO,eHNLL],
    bands: [eRandBand,eSTBOBand,eRFGPBand,eABLRBand,eSTBOHBand,eMIMOBand,eFSBOBand,eHNLLBand], step: true,
    kind: 'log', yMin: 0.00933, yMax: 0.686, majors: regretMajorE, minors: regretMinorE, xName: 'BO Iteration', yName: 'Regret' },
  { tag: '(f)', lines: [fRand,fSTBO,fRFGP,fABLR,fSTBOH,fMIMO,fFSBO,fHNLL],
    bands: [fRandBand,fSTBOBand,fRFGPBand,fABLRBand,fSTBOHBand,fMIMOBand,fFSBOBand,fHNLLBand], step: false,
    kind: 'rank', yMin: 0.094, yMax: 8.676, xName: 'BO Iteration', yName: 'Ranking' }
];

// plot boxes in pixels
const boxes = [
  { left: 83,    top: 74,  width: 254.5, height: 329, yGap: 55 },
  { left: 469.3, top: 74,  width: 254,   height: 329, yGap: 72 },
  { left: 855.3, top: 74,  width: 254.5, height: 329, yGap: 35 },
  { left: 83,    top: 473, width: 254.5, height: 329, yGap: 55 },
  { left: 469.3, top: 473, width: 254,   height: 329, yGap: 72 },
  { left: 855.3, top: 473, width: 254.5, height: 329, yGap: 35 }
];
const tagPos = [[49, 441], [443, 441], [841, 441], [49, 835], [443, 835], [841, 835]];

const tickText = { fontFamily: FONT, fontSize: 20, color: INK };
const lineStyleInk = { color: INK, width: 1.2 };

const grids = [], xAxes = [], yAxes = [], series = [];

// shaded spread around a mean curve, drawn as one polygon through the axes' scales
function bandSeries(band, color, xi, yi) {
  return {
    type: 'custom', xAxisIndex: xi, yAxisIndex: yi, silent: true, z: 1, clip: true,
    data: [[band[0][0], band[0][2]]],
    renderItem: function (params, api) {
      const up = [], lo = [];
      for (let i = 0; i < band.length; i++) {
        up.push(api.coord([band[i][0], band[i][2]]));
        lo.push(api.coord([band[i][0], band[i][1]]));
      }
      return {
        type: 'polygon',
        shape: { points: up.concat(lo.reverse()) },
        style: { fill: color, opacity: 0.1 }
      };
    }
  };
}

function supLabel(v) {
  const e = Math.round(Math.log10(v));
  return '{m|10}{s|' + (e < 0 ? '\u2212' : '') + Math.abs(e) + '}';
}

panels.forEach(function (p, gi) {
  const b = boxes[gi];
  grids.push({ left: b.left, top: b.top, width: b.width, height: b.height,
    show: true, borderColor: INK, borderWidth: 1.2, backgroundColor: 'transparent' });

  xAxes.push({
    type: 'value', gridIndex: gi, min: 1, max: 100,
    axisLine: { show: true, onZero: false, lineStyle: lineStyleInk },
    axisTick: { show: true, length: 5, customValues: xTicks, lineStyle: lineStyleInk },
    axisLabel: Object.assign({ customValues: xTicks, margin: 13 }, tickText),
    splitLine: { show: false },
    name: p.xName, nameLocation: 'middle', nameGap: 42,
    nameTextStyle: { fontFamily: FONT, fontSize: 20, color: INK }
  });

  const yName = { name: p.yName, nameLocation: 'middle', nameGap: b.yGap,
    nameTextStyle: { fontFamily: FONT, fontSize: 20, color: INK } };
  const mainY = yAxes.length;
  if (p.kind === 'frac') {
    yAxes.push(Object.assign({
      type: 'value', gridIndex: gi, min: -0.03, max: 0.63, position: 'left',
      axisLine: { show: true, onZero: false, lineStyle: lineStyleInk },
      axisTick: { show: true, length: 5, customValues: fracTicks, lineStyle: lineStyleInk },
      axisLabel: Object.assign({ customValues: fracTicks, margin: 12,
        formatter: function (v) { return v.toFixed(1); } }, tickText),
      splitLine: { show: false }
    }, yName));
  } else if (p.kind === 'rank') {
    yAxes.push(Object.assign({
      type: 'value', gridIndex: gi, min: p.yMin, max: p.yMax, position: 'left',
      axisLine: { show: true, onZero: false, lineStyle: lineStyleInk },
      axisTick: { show: true, length: 5, customValues: rankTicks, lineStyle: lineStyleInk },
      axisLabel: Object.assign({ customValues: rankTicks, margin: 12,
        formatter: function (v) { return String(Math.round(v)); } }, tickText),
      splitLine: { show: false }
    }, yName));
  } else {
    // main log axis: labels at the decades, short ticks at every 2..9 step
    yAxes.push(Object.assign({
      type: 'log', logBase: 10, gridIndex: gi, min: p.yMin, max: p.yMax, position: 'left',
      axisLine: { show: true, onZero: false, lineStyle: lineStyleInk },
      axisTick: { show: true, length: 3.5, customValues: p.majors.concat(p.minors),
        lineStyle: { color: INK, width: 1 } },
      axisLabel: Object.assign({ customValues: p.majors, margin: 12, formatter: supLabel,
        rich: {
          m: { fontFamily: FONT, fontSize: 20, color: INK },
          s: { fontFamily: FONT, fontSize: 14, color: INK, padding: [0, 0, 10, 0] }
        } }, tickText),
      splitLine: { show: false }
    }, yName));
    // longer ticks at the decades
    yAxes.push({
      type: 'log', logBase: 10, gridIndex: gi, min: p.yMin, max: p.yMax, position: 'left', offset: 0,
      axisLine: { show: false },
      axisTick: { show: true, length: 5, customValues: p.majors, lineStyle: lineStyleInk },
      axisLabel: { show: false },
      splitLine: { show: false }
    });
  }

  if (p.bands) {
    p.bands.forEach(function (band, k) {
      series.push(bandSeries(band, colors[k], gi, mainY));
    });
  }
  p.lines.forEach(function (data, k) {
    series.push({
      type: 'line', name: methods[k], xAxisIndex: gi, yAxisIndex: mainY,
      data: data, step: p.step ? 'end' : false, showSymbol: false, symbol: 'none',
      z: 2, lineStyle: { color: colors[k], width: 2.5 }, itemStyle: { color: colors[k] },
      silent: true
    });
  });
});

// legend: 5 columns, filled column by column
const legendCols = [211, 367, 523, 697, 854];
const legendRows = [7, 37];
const legends = methods.map(function (m, i) {
  return {
    data: [m], left: legendCols[Math.floor(i / 2)], top: legendRows[i % 2],
    icon: 'rect', itemWidth: 44, itemHeight: 3, selectedMode: false, z: 10,
    textStyle: { fontFamily: FONT, fontSize: 20, color: INK, padding: [0, 0, 0, 3] }
  };
});

const graphics = [{
  type: 'rect', left: 205, top: 2, z: 5, silent: true,
  shape: { width: 787, height: 66, r: 4 },
  style: { fill: '#ffffff', stroke: '#cccccc', lineWidth: 1,
    shadowColor: 'rgba(0,0,0,0.35)', shadowOffsetX: 3, shadowOffsetY: 3, shadowBlur: 1 }
}];
panels.forEach(function (p, gi) {
  graphics.push({
    type: 'text', left: tagPos[gi][0], top: tagPos[gi][1] - 11, silent: true, z: 5,
    style: { text: p.tag, font: 'bold 20px "Liberation Serif", serif', fill: INK }
  });
});

const chart = echarts.init(document.getElementById('chart'), null, { renderer: 'canvas' });
chart.setOption({
  animation: false,
  backgroundColor: '#ffffff',
  grid: grids, xAxis: xAxes, yAxis: yAxes,
  legend: legends,
  graphic: graphics,
  series: series
});
</script>
</body>
</html>
